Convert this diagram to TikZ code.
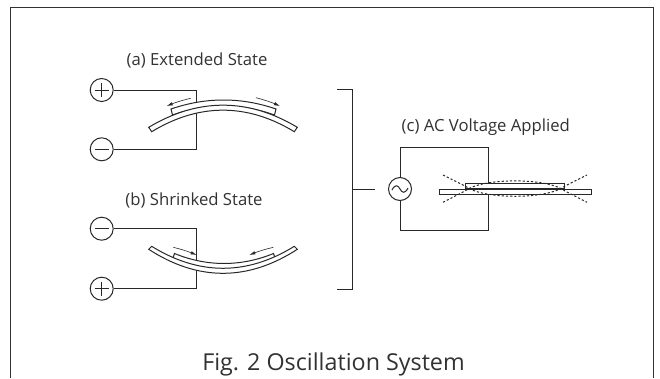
\documentclass[tikz,border=0pt]{standalone}
\usepackage{fontspec}
\setmainfont{Open Sans}
\usepackage{tikz}
\usetikzlibrary{arrows.meta,calc,positioning}
\definecolor{inkline}{RGB}{40,40,40}
\definecolor{framegray}{RGB}{50,50,50}
\definecolor{inktext}{RGB}{50,50,50}

\begin{document}
\begin{tikzpicture}[x=1pt,y=-1pt,>={Latex[length=6pt,width=3.4pt]}]
\tikzset{
  wire/.style={draw=inkline,line width=1pt},
  strip/.style={draw=inkline,fill=white,line width=1pt,line join=miter},
  motion/.style={draw=inkline,line width=0.6pt,->},
  swing/.style={draw=inkline,line width=1pt,dash pattern=on 2.2pt off 2pt},
  terminal/.style={circle,draw=inkline,line width=1pt,fill=white,minimum size=23pt,inner sep=0pt},
  plusterm/.style={terminal,path picture={
    \draw[wire] ($(path picture bounding box.center)+(-7,0)$)--++(14,0);
    \draw[wire] ($(path picture bounding box.center)+(0,-7)$)--++(0,14);}},
  minusterm/.style={terminal,path picture={
    \draw[wire] ($(path picture bounding box.center)+(-7,0)$)--++(14,0);}},
  acterm/.style={terminal,path picture={
    \draw[wire,shift={(path picture bounding box.center)}] (-8,1)
      .. controls (-5,-5) and (-2,-4) .. (0,0)
      .. controls (2,4) and (5,5) .. (8,-1);}},
  statelabel/.style={text=inktext,font=\fontsize{16.7}{20}\selectfont,inner sep=0pt},
  figlabel/.style={text=inktext,font=\fontsize{23.3}{27}\selectfont,inner sep=0pt}
}
\useasboundingbox (0,0) rectangle (660,378);
\draw[draw=framegray,line width=1pt] (10.5,378)--(10.5,7.5)--(653,7.5)--(653,378);

\node[statelabel] (labelA) at (197,60.5) {(a) Extended State};
\node[statelabel] (labelB) at (194,200.5) {(b) Shrinked State};
\node[statelabel] (labelC) at (485.8,127.5) {(c) AC Voltage Applied};
\node[figlabel] (caption) at (333.5,364.5) {Fig. 2 Oscillation System};

\node[plusterm] (plusA) at (101.7,90) {};
\node[minusterm] (minusA) at (101.7,149.3) {};
\coordinate (topA) at (196,90);
\coordinate (botA) at (196,149.3);
\draw[wire] (plusA)--(topA)--(botA)--(minusA);
\draw[strip] (172.5,115)--(171,109) .. controls (205.7,97) and (241.3,97) .. (276,109)--(274.5,115)
  .. controls (241,103) and (206,103) .. cycle;
\draw[strip] (148.7,127.3) .. controls (198,97.8) and (248,97.8) .. (297.3,127.3)--(294.3,131.7)
  .. controls (247,103) and (199,103) .. (151.7,131.7)--cycle;
\draw[motion] (190.7,98.3) to[bend right=4] (166.7,106);
\draw[motion] (256,97.7) to[bend left=4] (280,106);

\node[minusterm] (minusB) at (101.7,228.7) {};
\node[plusterm] (plusB) at (101.7,288.7) {};
\coordinate (topB) at (196,228.7);
\coordinate (botB) at (196,288.7);
\draw[wire] (minusB)--(topB)--(botB)--(plusB);
\draw[strip] (173,258)--(174.5,253.5) .. controls (207,266.8) and (241,266.8) .. (273.5,253.5)--(275,258)
  .. controls (241,275) and (207,275) .. cycle;
\draw[strip] (151.7,246.3) .. controls (199,275.6) and (247,275.6) .. (294.3,246.3)--(297.3,249.3)
  .. controls (248,281.3) and (198,281.3) .. (148.7,249.3)--cycle;
\draw[motion] (173.3,247.3) to[bend left=4] (196.7,255);
\draw[motion] (273.3,247.3) to[bend right=4] (249.3,255);

\coordinate (brackTop) at (337,89);
\coordinate (brackBot) at (337,289);
\coordinate (brackMid) at (352.5,189);
\coordinate (brackOut) at (374.7,189);
\draw[wire] (brackTop)-|(brackMid)|-(brackBot);
\draw[wire] (brackMid)--(brackOut);

\node[acterm] (source) at (400,189) {};
\coordinate (loopTL) at (400,147.7);
\coordinate (loopTR) at (488.3,147.7);
\coordinate (loopBR) at (488.3,230.3);
\coordinate (loopBL) at (400,230.3);
\draw[wire] (source)--(loopTL)--(loopTR)--(loopBR)--(loopBL)--(source);
\node[draw=inkline,fill=white,line width=1pt,minimum width=151.7pt,minimum height=5pt,inner sep=0pt,anchor=north west] (beamC) at (439,189) {};
\node[draw=inkline,fill=white,line width=1pt,minimum width=98.7pt,minimum height=4.7pt,inner sep=0pt,anchor=south west] (plateC) at (465.3,189) {};
\draw[draw=inkline,line width=1.8pt] (plateC.south west)--(plateC.south east);
\draw[swing] (443,202.3)--(465,191) .. controls (482,177.5) and (548,177.5) .. (565,191)--(587,202.3);
\draw[swing] (443,175)--(465,186) .. controls (482,199.7) and (548,199.7) .. (565,186)--(587,175);
\end{tikzpicture}
\end{document}
